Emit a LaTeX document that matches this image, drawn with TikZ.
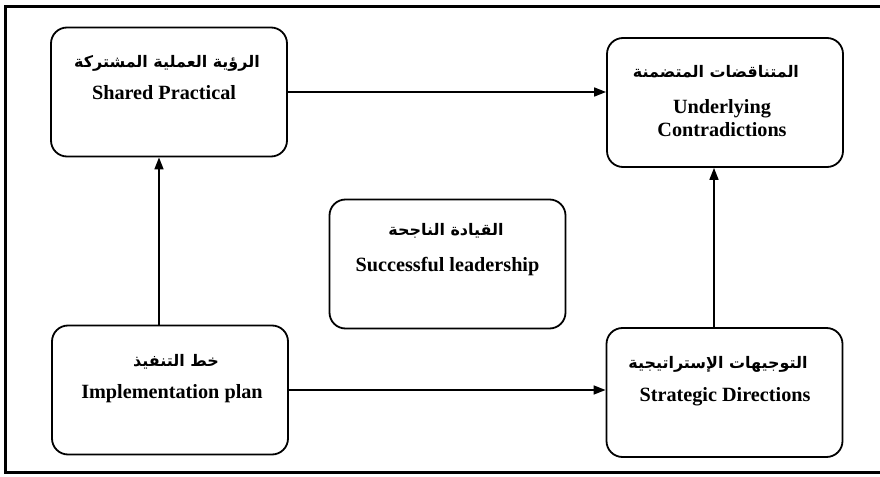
\documentclass[tikz,border=0pt]{standalone}
\usepackage{fontspec}
\setmainfont{Liberation Serif}
\newfontfamily\arabicfont[Script=Arabic]{DejaVu Sans}
\TeXXeTstate=1
\usetikzlibrary{arrows.meta}
\begin{document}
\begin{tikzpicture}[x=1bp,y=-1bp,
  box/.style={draw, line width=1.8bp, rounded corners=16bp,
    minimum width=236bp, minimum height=129bp, inner sep=0pt},
  en/.style={font=\fontsize{20.3}{23}\selectfont\bfseries, align=center, inner sep=0pt},
  ar/.style={font=\arabicfont\fontsize{16}{20}\selectfont\bfseries, inner sep=0pt},
  link/.style={line width=1.6bp, -{Triangle[length=12bp,width=9bp]}}]
\useasboundingbox (0,0) rectangle (880,477);
% outer frame, open on the right
\draw[line width=3bp] (884,7) -- (5,7) -- (5,472) -- (884,472);

% boxes
\node[box] (sp) at (169,92) {};
\node[box] (uc) at (725,102.5) {};
\node[box] (sl) at (447.5,264) {};
\node[box] (ip) at (170,390) {};
\node[box] (sd) at (724.5,392.5) {};

% labels
\node[ar] (spA) at (167,63) {\beginR الرؤية العملية المشتركة\endR};
\node[en] (spE) at (164,93) {Shared Practical};
\node[ar] (ucA) at (716,72) {\beginR المتناقضات المتضمنة\endR};
\node[en] (ucE) at (722,118.5) {Underlying\\Contradictions};
\node[ar] (slA) at (446,231) {\beginR القيادة الناجحة\endR};
\node[en] (slE) at (447.5,267) {Successful leadership};
\node[ar] (ipA) at (176,362) {\beginR خط التنفيذ\endR};
\node[en] (ipE) at (172,394) {Implementation plan};
\node[ar] (sdA) at (718,364) {\beginR التوجيهات الإستراتيجية\endR};
\node[en] (sdE) at (725,397) {Strategic Directions};

% connectors
\draw[link] (sp.east) -- (sp.east -| uc.west);
\draw[link] ([xshift=-11bp]ip.north) -- ([xshift=-11bp]ip.north |- sp.south);
\draw[link] (ip.east) -- (ip.east -| sd.west);
\draw[link] ([xshift=-10.5bp]sd.north) -- ([xshift=-10.5bp]sd.north |- uc.south);
\end{tikzpicture}
\end{document}
